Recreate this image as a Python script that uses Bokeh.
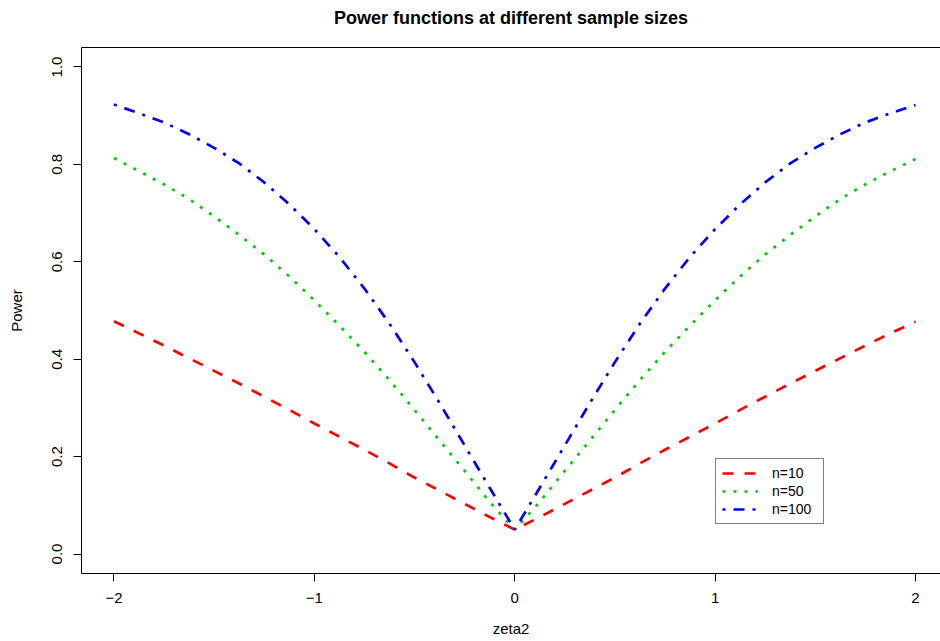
from bokeh.plotting import figure
from bokeh.models import Range1d, FixedTicker, Legend, LegendItem, LinearAxis
from bokeh.embed import file_html
from bokeh.resources import INLINE

# ---- data ----
zeta2 = [-2.0, -1.875, -1.75, -1.625, -1.5, -1.375, -1.25, -1.125, -1.0,
         -0.875, -0.75, -0.625, -0.5, -0.375, -0.25, -0.125, 0.0,
         0.125, 0.25, 0.375, 0.5, 0.625, 0.75, 0.875, 1.0,
         1.125, 1.25, 1.375, 1.5, 1.625, 1.75, 1.875, 2.0]

power_n10 = [0.478, 0.453, 0.428, 0.402, 0.376, 0.350, 0.323, 0.296, 0.268,
             0.241, 0.214, 0.186, 0.157, 0.130, 0.103, 0.076, 0.050,
             0.076, 0.103, 0.130, 0.157, 0.186, 0.214, 0.241, 0.268,
             0.296, 0.323, 0.350, 0.376, 0.402, 0.428, 0.453, 0.477]

power_n50 = [0.813, 0.786, 0.759, 0.729, 0.693, 0.655, 0.615, 0.570, 0.521,
             0.469, 0.415, 0.357, 0.296, 0.233, 0.171, 0.107, 0.050,
             0.107, 0.171, 0.233, 0.296, 0.357, 0.415, 0.469, 0.521,
             0.570, 0.615, 0.655, 0.693, 0.729, 0.759, 0.786, 0.811]

power_n100 = [0.923, 0.905, 0.886, 0.862, 0.834, 0.802, 0.763, 0.718, 0.667,
              0.610, 0.545, 0.473, 0.394, 0.310, 0.223, 0.136, 0.050,
              0.136, 0.223, 0.310, 0.394, 0.473, 0.545, 0.610, 0.667,
              0.718, 0.763, 0.802, 0.834, 0.862, 0.886, 0.905, 0.922]

title_text = "Power functions at different sample sizes"
series_labels = ["n=10", "n=50", "n=100"]
x_ticks = [-2, -1, 0, 1, 2]
x_tick_labels = ["\u22122", "\u22121", "0", "1", "2"]
y_ticks = [0.0, 0.2, 0.4, 0.6, 0.8, 1.0]
y_tick_labels = ["0.0", "0.2", "0.4", "0.6", "0.8", "1.0"]

FONT = "Liberation Sans"

p = figure(width=940, height=640, output_backend="svg", toolbar_location=None,
           x_range=Range1d(-2.162, 2.125), y_range=Range1d(-0.04, 1.04),
           min_border_left=81, min_border_right=0, min_border_top=47,
           min_border_bottom=67)

p.background_fill_color = "white"
p.border_fill_color = "white"
p.outline_line_color = None
p.xgrid.visible = False
p.ygrid.visible = False

xa = p.below[0]
ya = p.left[0]

# top edge of the plot box (box is open on the right, beyond the window);
# the main title sits above it
top_axis = LinearAxis(major_tick_line_color=None, minor_tick_line_color=None,
                      major_tick_out=0, major_tick_in=0,
                      major_label_standoff=0,
                      major_label_text_font_size="0px",
                      axis_line_color="black", axis_line_width=1)
top_axis.ticker = FixedTicker(ticks=[])
top_axis.axis_label = title_text
top_axis.axis_label_text_font = FONT
top_axis.axis_label_text_font_size = "18px"
top_axis.axis_label_text_font_style = "bold"
top_axis.axis_label_text_color = "black"
top_axis.axis_label_standoff = 20
p.add_layout(top_axis, "above")

for ax in (xa, ya):
    ax.axis_line_color = "black"
    ax.major_tick_line_color = "black"
    ax.major_tick_in = 0
    ax.major_tick_out = 8
    ax.minor_tick_line_color = None
    ax.major_label_text_font = FONT
    ax.major_label_text_font_size = "15px"
    ax.major_label_text_color = "black"
    ax.axis_label_text_font = FONT
    ax.axis_label_text_font_size = "15px"
    ax.axis_label_text_font_style = "normal"
    ax.axis_label_text_color = "black"

xa.ticker = FixedTicker(ticks=x_ticks)
xa.major_label_overrides = dict(zip(x_ticks, x_tick_labels))
xa.axis_label = "zeta2"
xa.major_label_standoff = 11
xa.axis_label_standoff = 14

ya.ticker = FixedTicker(ticks=y_ticks)
ya.major_label_overrides = dict(zip(y_ticks, y_tick_labels))
ya.major_label_orientation = "vertical"
ya.axis_label = "Power"
ya.major_label_standoff = 11
ya.axis_label_standoff = 25

r1 = p.line(zeta2, power_n10, line_color="#FF0000", line_width=2.7,
            line_dash="11 11")
r2 = p.line(zeta2, power_n50, line_color="#00CD00", line_width=2.7,
            line_dash="3 8")
r3 = p.line(zeta2, power_n100, line_color="#0000FF", line_width=2.7,
            line_dash="3 8 11 8")

legend = Legend(items=[LegendItem(label=series_labels[0], renderers=[r1]),
                       LegendItem(label=series_labels[1], renderers=[r2]),
                       LegendItem(label=series_labels[2], renderers=[r3])],
                location=(634, 49))
legend.border_line_color = "black"
legend.border_line_width = 1
legend.background_fill_color = "white"
legend.background_fill_alpha = 1
legend.padding = 6
legend.margin = 0
legend.spacing = 2
legend.label_height = 16
legend.glyph_height = 16
legend.glyph_width = 36
legend.label_standoff = 14
legend.label_width = 45
legend.label_text_font = FONT
legend.label_text_font_size = "14px"
legend.label_text_color = "black"
p.add_layout(legend, "center")

open("out.html", "w").write(file_html(p, INLINE))
